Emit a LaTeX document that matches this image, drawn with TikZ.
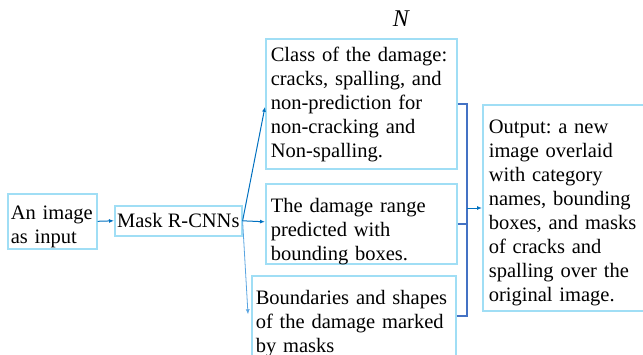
\documentclass[tikz,border=0pt]{standalone}
\usepackage{fontspec}
\setmainfont{Liberation Serif}
\usetikzlibrary{arrows.meta}
\frenchspacing

\definecolor{boxblue}{RGB}{160,222,245}
\definecolor{flowblue}{RGB}{0,112,192}
\definecolor{lightflow}{RGB}{90,165,225}
\definecolor{joinblue}{RGB}{68,114,196}

\begin{document}
\begin{tikzpicture}[x=1pt, y=-1pt, >={Latex[length=5pt,width=4pt]},
	every node/.style={font=\fontsize{20.5pt}{24pt}\selectfont},
	stagebox/.style={draw=boxblue, line width=1.6pt, anchor=north west, align=left, inner ysep=0pt},
	flow/.style={->, flowblue, line width=1pt},
	mergeline/.style={joinblue, line width=1.4pt}]
	\useasboundingbox (0,0) rectangle (643,354);
	% input and network
	\node[stagebox, inner xsep=3pt, text width=83, minimum height=55, text height=14pt, text depth=17pt] (input) at (7,193) {An image\\as input};
	\node[stagebox, align=center, inner xsep=2pt, minimum width=127, minimum height=30] (mask) at (114,205) {Mask R-CNNs};
	% the three outputs of the network
	\node[font=\fontsize{24pt}{28pt}\selectfont\itshape] (count) at (401,19) {N};
	\node[stagebox, inner xsep=5pt, text width=181, minimum height=130, text height=14pt, text depth=98pt] (cls) at (265,38) {Class of the damage:\\cracks, spalling, and\\non-prediction for\\non-cracking and\\Non-spalling.};
	\node[stagebox, inner xsep=5pt, text width=181, minimum height=80, text height=14pt, text depth=36pt] (range) at (265,183) {The damage range\\predicted with\\bounding boxes.};
	\node[stagebox, inner xsep=4pt, text width=196, minimum height=95, text height=14pt, text depth=51pt] (shape) at (251,275) {Boundaries and shapes\\of the damage marked\\by masks};
	% merged result
	\node[stagebox, inner xsep=6pt, text width=158, minimum height=206, text height=14pt, text depth=162pt] (output) at (482,104) {Output: a new\\image overlaid\\with category\\names, bounding\\boxes, and masks\\of cracks and\\spalling over the\\original image.};
	\coordinate (merge) at (467,208);
	\draw[flow] (input.east) -- (mask.west);
	\draw[flow] (mask.east) -- ([yshift=-3pt]cls.west);
	\draw[flow] (mask.east) -- ([yshift=2pt]range.west);
	\draw[flow, lightflow, line width=0.8pt] (mask.east) -- ([shift={(-3pt,9pt)}]shape.west);
	\draw[mergeline] (cls.east) -| (merge);
	\draw[mergeline] ([yshift=7.5pt]shape.east) -| (merge);
	\draw[mergeline] (range.east) -- (range.east -| merge);
	\draw[flow] (merge) -- (output.west |- merge);
\end{tikzpicture}
\end{document}
